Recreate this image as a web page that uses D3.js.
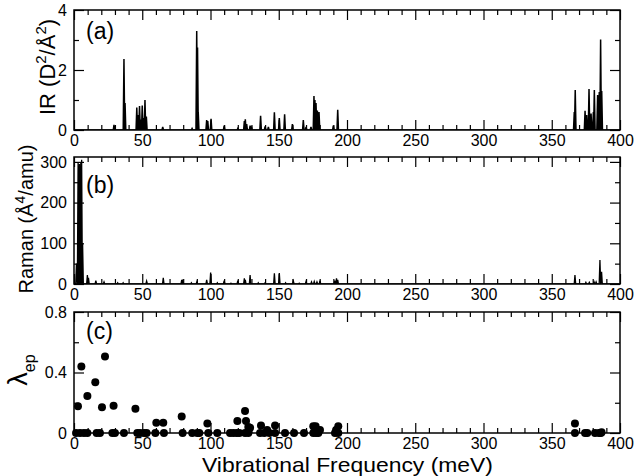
<!DOCTYPE html>
<html>
<head>
<meta charset="utf-8">
<script src="https://cdn.jsdelivr.net/npm/d3@7"></script>
<style>
  body { margin: 0; background: #fff; }
  text { font-family: "Liberation Sans", Arial, sans-serif; fill: #000; }
</style>
</head>
<body>
<svg id="chart" width="634" height="476"></svg>
<script>
// IR peaks (meV, D^2/A^2)
const irFreq = [29.3, 36.6, 37.4, 46.0, 47.0, 48.0, 49.0, 50.0, 51.0, 52.0, 53.0, 65.0, 86.5,
  89.9, 90.5, 91.0, 97.2, 98.0, 100.4, 110, 120, 124.8, 125.5, 126.5, 129, 130, 136.7, 140,
  142.4, 146.8, 150.4, 154.3, 160, 168, 170, 173.6, 175.8, 176.5, 177.3, 178.3, 179.5, 190,
  193.2, 366.5, 367.2, 374.4, 375.6, 377.3, 378.8, 380.5, 381.2, 383.6, 384.8, 385.8, 386.6];
const irInt = [0.17, 2.37, 0.9, 0.75, 0.5, 0.8, 0.35, 0.82, 0.4, 1.0, 0.45, 0.1, 0.05,
  3.3, 2.75, 0.6, 0.33, 0.3, 0.37, 0.15, 0.05, 0.3, 0.36, 0.2, 0.15, 0.12, 0.47, 0.12,
  0.1, 0.59, 0.4, 0.52, 0.2, 0.33, 0.1, 0.1, 1.13, 1.0, 0.9, 0.65, 0.6, 0.15,
  0.67, 0.6, 1.33, 0.64, 0.5, 1.37, 0.55, 0.6, 1.33, 1.17, 1.27, 3.02, 1.3];

// Raman peaks (meV, A^4/amu)
const ramanFreq = [1.8, 3.0, 3.5, 4.0, 4.5, 5.0, 5.6, 6.3, 9.8, 10.6, 16, 22, 32, 36, 53.2,
  65.4, 78.9, 79.6, 86, 90, 97.2, 100.1, 105, 110, 115, 120, 124.8, 125.5, 129, 135, 140,
  146.8, 150.4, 155, 160.7, 165, 170, 174, 176, 178, 180.2, 191, 192.3, 193.2, 367, 375,
  377.5, 381, 382.5, 385.3, 386.5];
const ramanInt = [50, 300, 250, 295, 215, 300, 305, 100, 22, 15, 8, 5, 3, 3, 7,
  15, 10, 11, 3, 5, 10, 28, 3, 8, 2, 8, 14, 10, 22, 3, 3,
  26, 27, 3, 7, 2, 6, 5, 6, 5, 8, 8, 14, 10, 22, 4,
  4, 5, 5, 59, 30];

// electron-phonon coupling per mode
const lamFreq = [2.9, 5.4, 9.8, 15.6, 20.5, 22.7, 29, 45, 60.3, 65.4, 78.9, 97.7, 119.7,
  125.3, 126, 127.7, 129, 137, 141.5, 147.3, 175.3, 177, 180.2, 192, 193.6, 367, 386.5,
  1.5, 4.4, 7.3, 9.8, 16.6, 19.0, 28.1, 30.0, 36.6, 46.4, 48.4, 51.3, 53.2, 59.6, 65.9,
  79.6, 86.6, 90.3, 91.8, 98.4, 105.0, 114.3, 116.7, 119.2, 121.1, 125.3, 127.7, 136.3,
  139.4, 143.1, 147.3, 154.6, 161.2, 168.5, 175.3, 177.3, 179, 191.2, 193.6, 367, 374.4,
  376, 381.7, 384.6, 386];
const lamVal = [0.177, 0.44, 0.244, 0.335, 0.17, 0.505, 0.18, 0.16, 0.067, 0.067, 0.109, 0.062, 0.08,
  0.146, 0.08, 0.04, 0.035, 0.05, 0.02, 0.05, 0.045, 0.045, 0.02, 0.02, 0.045, 0.062, 0.005,
  0, 0, 0, 0, 0, 0, 0, 0, 0, 0, 0, 0, 0, 0, 0,
  0, 0, 0, 0, 0, 0, 0, 0, 0, 0, 0, 0, 0,
  0, 0, 0, 0, 0, 0, 0, 0, 0, 0, 0, 0, 0,
  0, 0, 0, 0];

const xMajor = [0, 50, 100, 150, 200, 250, 300, 350, 400];
const xMinor = d3.range(0, 401, 10).filter(v => v % 50 !== 0);

const svg = d3.select("#chart");
const left = 74, right = 620;

const x = d3.scaleLinear().domain([0, 400]).range([left, right]);

const panels = [
  { id: "a", top: 10, bottom: 130, domain: [0, 4], major: [0, 2, 4], minor: [1, 3],
    fmt: d3.format("d"), label: "(a)", labelY: 39 },
  { id: "b", top: 157, bottom: 284, domain: [0, 312], major: [0, 100, 200, 300], minor: [50, 150, 250],
    fmt: d3.format("d"), label: "(b)", labelY: 193 },
  { id: "c", top: 312, bottom: 433, domain: [0, 0.8], major: [0, 0.4, 0.8], minor: [0.2, 0.6],
    fmt: d => d === 0 ? "0" : d3.format(".1f")(d), label: "(c)", labelY: 339 }
];

panels.forEach(p => {
  p.y = d3.scaleLinear().domain(p.domain).range([p.bottom, p.top]);

  svg.append("clipPath").attr("id", "clip-" + p.id)
    .append("rect")
    .attr("x", left).attr("y", p.top)
    .attr("width", right - left).attr("height", p.bottom - p.top);

  const g = svg.append("g");

  // bottom axis with labels
  g.append("g").attr("transform", `translate(0,${p.bottom})`)
    .call(d3.axisBottom(x).tickValues(xMajor).tickSize(-10).tickPadding(5).tickFormat(d3.format("d")))
    .call(a => a.select(".domain").remove())
    .call(a => a.selectAll("text").attr("font-size", 16).attr("font-family", null));
  g.append("g").attr("transform", `translate(0,${p.bottom})`)
    .call(d3.axisBottom(x).tickValues(xMinor).tickSize(-5).tickFormat(""))
    .call(a => a.select(".domain").remove());

  // top axis, ticks only
  g.append("g").attr("transform", `translate(0,${p.top})`)
    .call(d3.axisTop(x).tickValues(xMajor).tickSize(-10).tickFormat(""))
    .call(a => a.select(".domain").remove());
  g.append("g").attr("transform", `translate(0,${p.top})`)
    .call(d3.axisTop(x).tickValues(xMinor).tickSize(-5).tickFormat(""))
    .call(a => a.select(".domain").remove());

  // left axis
  g.append("g").attr("transform", `translate(${left},0)`)
    .call(d3.axisLeft(p.y).tickValues(p.major).tickSize(-10).tickPadding(7).tickFormat(p.fmt))
    .call(a => a.select(".domain").remove())
    .call(a => a.selectAll("text").attr("font-size", 16).attr("font-family", null));
  g.append("g").attr("transform", `translate(${left},0)`)
    .call(d3.axisLeft(p.y).tickValues(p.minor).tickSize(-5).tickFormat(""))
    .call(a => a.select(".domain").remove());

  // right axis
  g.append("g").attr("transform", `translate(${right},0)`)
    .call(d3.axisRight(p.y).tickValues(p.major).tickSize(-10).tickFormat(""))
    .call(a => a.select(".domain").remove());
  g.append("g").attr("transform", `translate(${right},0)`)
    .call(d3.axisRight(p.y).tickValues(p.minor).tickSize(-5).tickFormat(""))
    .call(a => a.select(".domain").remove());

  g.selectAll(".tick line").attr("stroke", "#000").attr("stroke-width", 1.2);

  g.append("rect")
    .attr("x", left).attr("y", p.top)
    .attr("width", right - left).attr("height", p.bottom - p.top)
    .attr("fill", "none").attr("stroke", "#000").attr("stroke-width", 1.5);

  g.append("text")
    .attr("x", 86).attr("y", p.labelY)
    .attr("font-size", 23)
    .text(p.label);
});

// narrow stick spectrum: each peak drawn as a thin spike
function spikes(freq, vals, hw) {
  const pts = [[0, 0]];
  const order = d3.range(freq.length).sort((i, j) => freq[i] - freq[j]);
  order.forEach(i => {
    pts.push([freq[i] - hw, 0], [freq[i], vals[i]], [freq[i] + hw, 0]);
  });
  pts.push([400, 0]);
  return pts;
}

const [pa, pb, pc] = panels;

svg.append("path")
  .datum(spikes(irFreq, irInt, 0.55))
  .attr("clip-path", "url(#clip-a)")
  .attr("fill", "none").attr("stroke", "#000").attr("stroke-width", 1.5)
  .attr("d", d3.line().x(d => x(d[0])).y(d => pa.y(d[1])));

svg.append("path")
  .datum(spikes(ramanFreq, ramanInt, 0.55))
  .attr("clip-path", "url(#clip-b)")
  .attr("fill", "none").attr("stroke", "#000").attr("stroke-width", 1.3)
  .attr("d", d3.line().x(d => x(d[0])).y(d => pb.y(d[1])));

svg.append("g")
  .selectAll("circle")
  .data(d3.range(lamFreq.length))
  .enter().append("circle")
  .attr("cx", i => x(lamFreq[i]))
  .attr("cy", i => pc.y(lamVal[i]))
  .attr("r", 4)
  .attr("fill", "#000");

// axis titles
svg.append("text")
  .attr("transform", "translate(55,67) rotate(-90)")
  .attr("text-anchor", "middle")
  .attr("font-size", 22)
  .call(t => {
    t.append("tspan").text("IR (D");
    t.append("tspan").attr("font-size", 15).attr("dy", -9).text("2");
    t.append("tspan").attr("dy", 9).text("/Å");
    t.append("tspan").attr("font-size", 15).attr("dy", -9).text("2");
    t.append("tspan").attr("dy", 9).text(")");
  });

svg.append("text")
  .attr("transform", "translate(33,219) rotate(-90)")
  .attr("text-anchor", "middle")
  .attr("font-size", 20)
  .call(t => {
    t.append("tspan").text("Raman (Å");
    t.append("tspan").attr("font-size", 14).attr("dy", -8).text("4");
    t.append("tspan").attr("dy", 8).text("/amu)");
  });

svg.append("text")
  .attr("transform", "translate(27,370) rotate(-90)")
  .attr("text-anchor", "middle")
  .call(t => {
    t.append("tspan").attr("font-size", 27).text("λ");
    t.append("tspan").attr("font-size", 16).attr("dy", 8).text("ep");
  });

svg.append("text")
  .attr("x", 202).attr("y", 472)
  .attr("font-size", 21)
  .attr("textLength", 291)
  .attr("lengthAdjust", "spacingAndGlyphs")
  .text("Vibrational Frequency (meV)");
</script>
</body>
</html>
